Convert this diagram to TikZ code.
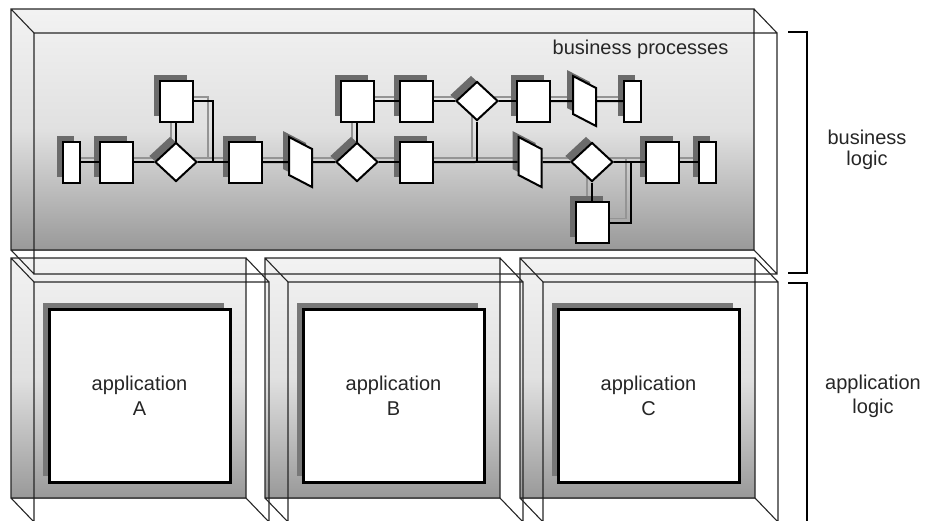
\documentclass[tikz,border=0pt]{standalone}
\usepackage{fontspec}
\setmainfont{Liberation Sans}
\usetikzlibrary{shapes.geometric, shadows}

\pgfdeclarelayer{back}
\pgfdeclarelayer{wires}
\pgfsetlayers{back,wires,main}

\tikzset{
  face/.style={top color=gray!10, bottom color=gray!80, middle color=gray!24},
  rim/.style={draw=black!85, line width=1.1pt},
  wire/.style={line width=2pt, black},
  wireshade/.style={line width=1.9pt, black!42},
  boxshade/.style={drop shadow={shadow xshift=-6pt, shadow yshift=6pt, opacity=1, fill=black!58}},
  task/.style={rectangle, draw, line width=2pt, fill=white, minimum width=33pt,
    minimum height=41pt, inner sep=0pt, boxshade},
  stub/.style={task, minimum width=17pt},
  gate/.style={diamond, draw, line width=2pt, fill=white, minimum width=42pt,
    minimum height=39pt, inner sep=0pt, boxshade},
  pgram/.style={task, minimum width=23pt, minimum height=38pt, yslant=-0.52, transform shape},
  app/.style={rectangle, draw, line width=3pt, fill=white, minimum width=181pt,
    minimum height=173pt, align=center, font=\fontsize{20}{25}\selectfont, text=black!85,
    drop shadow={shadow xshift=-6pt, shadow yshift=6pt, opacity=1, fill=black!53}},
  lbl/.style={font=\fontsize{20}{24}\selectfont, align=center, text=black!85}
}

\begin{document}
\begin{tikzpicture}[x=1pt, y=-1pt]
\useasboundingbox (0,0) rectangle (925,520);

% see-through cabinets
\begin{pgfonlayer}{back}
  \shade[face] (11,9) rectangle (754,250);
  \foreach \x in {11,265,520}
    \shade[face] (\x,258) rectangle (\x+235,498);
  \draw[rim] (11,9) rectangle (754,250) (34,33) rectangle (777,274)
    (11,9) -- (34,33) (754,9) -- (777,33) (11,250) -- (34,274) (754,250) -- (777,274);
  \foreach \x in {11,265,520}
    \draw[rim] (\x,258) rectangle (\x+235,498) (\x+23,282) rectangle (\x+258,522)
      (\x,258) -- (\x+23,282) (\x+235,258) -- (\x+258,282)
      (\x,498) -- (\x+23,522) (\x+235,498) -- (\x+258,522);
\end{pgfonlayer}

% applications
\foreach \x/\n in {11/A,265/B,520/C}
  \node[app] (app\n) at (\x+128.5,395.5) {application\\\n};

% process steps
\node[stub] (s1) at (71,162) {};
\node[task] (r1) at (116.5,162) {};
\node[gate] (d1) at (176,162) {};
\node[task] (u1) at (176,101) {};
\node[task] (r2) at (245,162) {};
\node[pgram] (t1) at (300.5,162) {};
\node[gate] (d2) at (357,162) {};
\node[task] (u2) at (357,101) {};
\node[task] (u3) at (416,101) {};
\node[task] (r3) at (416,162) {};
\node[gate] (d3) at (477,101) {};
\node[task] (u4) at (533.5,101) {};
\node[pgram] (t2) at (584.5,101) {};
\node[stub] (s2) at (632.5,101) {};
\node[pgram] (t3) at (530,162) {};
\node[gate] (d4) at (592,162) {};
\node[task] (b1) at (592,222.5) {};
\node[task] (r4) at (662.5,162) {};
\node[stub] (s3) at (707.5,162) {};

\coordinate (j1) at (213,162);
\coordinate (j2) at (477,162);
\coordinate (j3) at (631,162);

\def\links{s1/r1, r1/d1, d1/r2, r2/t1, t1/d2, d2/r3, r3/t3, t3/d4, d4/r4, r4/s3,
  u1/d1, u2/d2, d4/b1, u2/u3, u3/d3, d3/u4, u4/t2, t2/s2}

% wire shadows
\begin{pgfonlayer}{wires}
  \begin{scope}[transform canvas={xshift=-5pt, yshift=4pt}]
    \foreach \a/\b in \links
      \draw[wireshade] (\a.center) -- (\b.center);
    \draw[wireshade] (u1.center) -- (u1.east) -| (j1);
    \draw[wireshade] (b1.center) -- (b1.east) -| (j3);
    \draw[wireshade] (d3.center) -- (j2);
  \end{scope}
\end{pgfonlayer}

% wires
\foreach \a/\b in \links
  \draw[wire] (\a) -- (\b);
\draw[wire] (u1.east) -| (j1);
\draw[wire] (b1.east) -| (j3);
\draw[wire] (d3.south) -- (j2);

% labels
\node[lbl, anchor=base] (bp) at (640.5,54) {business processes};
\node[lbl, font=\fontsize{20}{21}\selectfont] (bl) at (867,150) {business\\logic};
\node[lbl] (al) at (873,396) {application\\logic};

% braces
\draw[line width=2pt] (788,32) -- (807,32) -- (807,273) -- (788,273);
\draw[line width=2pt] (788,283) -- (807,283) -- (807,530);
\end{tikzpicture}
\end{document}
